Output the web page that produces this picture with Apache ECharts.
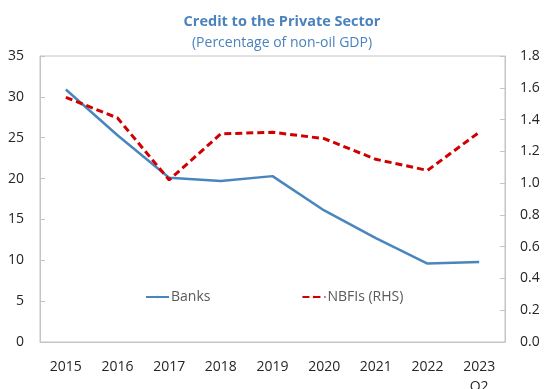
<!DOCTYPE html>
<html>
<head>
<meta charset="utf-8">
<script src="https://cdn.jsdelivr.net/npm/echarts@6/dist/echarts.min.js"></script>
<style>
  html, body { margin: 0; padding: 0; background: #ffffff; }
  #chart { width: 544px; height: 389px; }
</style>
</head>
<body>
<div id="chart"></div>
<script>
// Credit to the private sector, percent of non-oil GDP
const years = ['2015', '2016', '2017', '2018', '2019', '2020', '2021', '2022', '2023\nQ2'];
const banks = [30.9, 25.3, 20.1, 19.7, 20.3, 16.1, 12.7, 9.6, 9.8];
const nbfis = [1.54, 1.41, 1.02, 1.31, 1.32, 1.28, 1.15, 1.08, 1.32];
const leftTicks = [0, 35, 5];    // min, max, interval
const rightTicks = [0, 1.8, 0.2];

const font = 'Open Sans';
const axisGrey = '#c4c4c4';
const labelColor = '#262626';
const titleBlue = '#4a82bd';

const chart = echarts.init(document.getElementById('chart'), null, { renderer: 'canvas' });

chart.setOption({
  animation: false,
  backgroundColor: '#ffffff',
  textStyle: { fontFamily: font },
  title: [
    {
      text: 'Credit to the Private Sector',
      left: 277, top: 9, textAlign: 'center',
      textStyle: { fontFamily: font, fontSize: 14.5, fontWeight: 'bold', color: titleBlue }
    },
    {
      text: '(Percentage of non-oil GDP)',
      left: 277, top: 31, textAlign: 'center',
      textStyle: { fontFamily: font, fontSize: 14, fontWeight: 'normal', color: titleBlue }
    }
  ],
  legend: {
    left: 140, top: 285,
    itemWidth: 23, itemHeight: 3, itemGap: 91,
    textStyle: { fontFamily: font, fontSize: 14, color: '#595959', padding: [0, 0, 0, -3] },
    data: ['Banks', 'NBFIs (RHS)']
  },
  grid: {
    left: 40, right: 39, top: 56, bottom: 47,
    outerBoundsMode: 'none',
    containLabel: false,
    show: true, borderColor: axisGrey, borderWidth: 1
  },
  xAxis: {
    type: 'category',
    data: years,
    boundaryGap: true,
    axisLine: { lineStyle: { color: axisGrey, width: 1 } },
    axisTick: { inside: true, length: 5, lineStyle: { color: axisGrey } },
    axisLabel: { fontFamily: font, fontSize: 14, color: labelColor, margin: 15, lineHeight: 20 },
    splitLine: { show: false }
  },
  yAxis: [
    {
      type: 'value',
      min: leftTicks[0], max: leftTicks[1], interval: leftTicks[2],
      axisLine: { show: true, lineStyle: { color: axisGrey } },
      axisTick: { show: true, inside: true, length: 5, lineStyle: { color: axisGrey } },
      axisLabel: { fontFamily: font, fontSize: 14, color: labelColor, margin: 16 },
      splitLine: { show: false }
    },
    {
      type: 'value',
      position: 'right',
      min: rightTicks[0], max: rightTicks[1], interval: rightTicks[2],
      axisLine: { show: true, lineStyle: { color: axisGrey } },
      axisTick: { show: true, inside: true, length: 5, lineStyle: { color: axisGrey } },
      axisLabel: {
        fontFamily: font, fontSize: 14, color: labelColor, margin: 15,
        formatter: v => v.toFixed(1)
      },
      splitLine: { show: false }
    }
  ],
  series: [
    {
      name: 'Banks',
      type: 'line',
      yAxisIndex: 0,
      data: banks,
      symbol: 'none',
      lineStyle: { color: '#4a86be', width: 2.5 },
      itemStyle: { color: '#4a86be' }
    },
    {
      name: 'NBFIs (RHS)',
      type: 'line',
      yAxisIndex: 1,
      data: nbfis,
      symbol: 'none',
      lineStyle: { color: '#d00000', width: 3, type: [7, 4] },
      itemStyle: { color: '#d00000' }
    }
  ]
});
</script>
</body>
</html>
